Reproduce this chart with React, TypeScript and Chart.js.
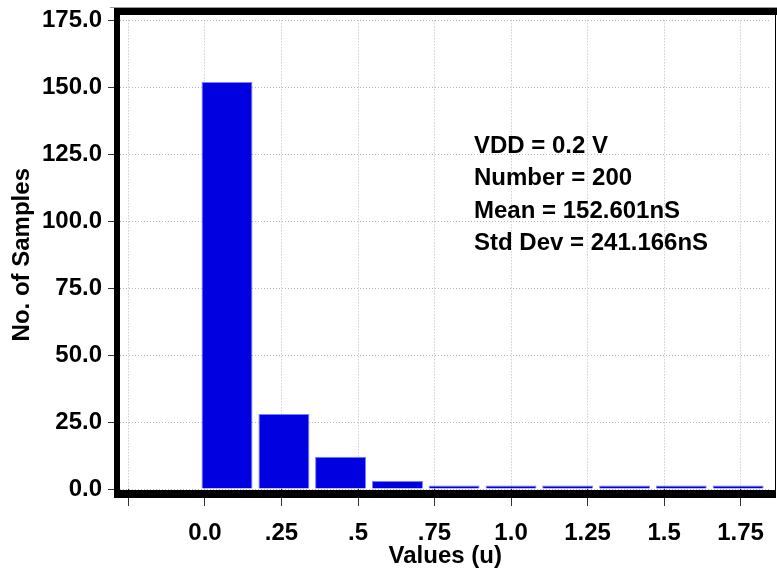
import React, { useEffect, useRef } from 'react';
import { Chart, registerables } from 'chart.js';

Chart.register(...registerables);

// ---- data ----
const binCenters = [0.072, 0.258, 0.443, 0.629, 0.814, 1.0, 1.185, 1.371, 1.556, 1.742];
const sampleCounts = [152, 28, 12, 3, 0, 1, 1, 1, 1, 1];
const xTickValues = [-0.25, 0, 0.25, 0.5, 0.75, 1.0, 1.25, 1.5, 1.75];
const xTickLabels = ['', '0.0', '.25', '.5', '.75', '1.0', '1.25', '1.5', '1.75'];
const yTickValues = [0, 25, 50, 75, 100, 125, 150, 175];
const yTickLabels = ['0.0', '25.0', '50.0', '75.0', '100.0', '125.0', '150.0', '175.0'];
const statsLines = ['VDD = 0.2 V', 'Number = 200', 'Mean = 152.601nS', 'Std Dev = 241.166nS'];
const xTitle = 'Values (u)';
const yTitle = 'No. of Samples';

const FONT = '"Liberation Sans", Arial, Helvetica, sans-serif';

const framePlugin = {
  id: 'frame',
  afterDatasetsDraw(chart: any) {
    const ctx = chart.ctx;
    ctx.save();
    ctx.fillStyle = '#9a9a9a';
    ctx.fillRect(110, 7, 667, 1);
    ctx.fillStyle = '#000';
    ctx.fillRect(114, 8, 663, 7);
    ctx.fillRect(114, 8, 6, 490);
    ctx.fillRect(114, 490, 662, 8);
    ctx.fillRect(775, 8, 1, 490);
    ctx.restore();
  },
};

const statsPlugin = {
  id: 'stats',
  afterDraw(chart: any) {
    const ctx = chart.ctx;
    ctx.save();
    ctx.fillStyle = '#000';
    ctx.font = `bold 24px ${FONT}`;
    ctx.textAlign = 'left';
    ctx.textBaseline = 'middle';
    statsLines.forEach((line, i) => {
      ctx.fillText(line, 474, 146 + i * 32.5);
    });
    ctx.restore();
  },
};

export default function App() {
  const ref = useRef<HTMLCanvasElement>(null);
  useEffect(() => {
    if (!ref.current) return;
    const chart = new Chart(ref.current, {
      type: 'bar',
      data: {
        datasets: [
          {
            data: binCenters.map((x, i) => ({ x, y: sampleCounts[i] })),
            backgroundColor: 'rgb(0,0,224)',
            borderColor: 'rgb(125,125,255)',
            borderWidth: 1,
            borderSkipped: 'start',
            categoryPercentage: 1,
            barPercentage: 0.9,
            minBarLength: 3.5,
          } as any,
        ],
      },
      options: {
        animation: false,
        responsive: false,
        layout: { padding: { top: 16, right: 1, left: 0, bottom: 0 } },
        plugins: { legend: { display: false }, tooltip: { enabled: false } },
        scales: {
          x: {
            type: 'linear',
            min: -0.2776,
            max: 1.8474,
            offset: false,
            afterFit: (s: any) => { s.height = 86; },
            afterBuildTicks: (s: any) => { s.ticks = xTickValues.map((v) => ({ value: v })); },
            ticks: {
              autoSkip: false,
              maxRotation: 0,
              padding: 13,
              color: '#000',
              font: { family: FONT, size: 24, weight: 'bold' },
              callback: (v: any) => {
                const i = xTickValues.findIndex((t) => Math.abs(t - Number(v)) < 1e-6);
                return i >= 0 ? xTickLabels[i] : '';
              },
            },
            grid: {
              offset: false,
              color: '#b8b8b8',
              tickColor: '#333',
              tickLength: 17,
              lineWidth: 1,
            },
            border: { display: false, dash: [1, 2] },
            title: {
              display: true,
              text: xTitle,
              color: '#000',
              font: { family: FONT, size: 24, weight: 'bold' },
              padding: { top: 0, bottom: 4 },
            },
          },
          y: {
            type: 'linear',
            min: 0,
            max: 175,
            afterFit: (s: any) => { s.width = 120; },
            afterBuildTicks: (s: any) => { s.ticks = yTickValues.map((v) => ({ value: v })); },
            ticks: {
              padding: 6,
              color: '#000',
              font: { family: FONT, size: 24, weight: 'bold' },
              callback: (v: any) => {
                const i = yTickValues.findIndex((t) => Math.abs(t - Number(v)) < 1e-6);
                return i >= 0 ? yTickLabels[i] : '';
              },
            },
            grid: {
              color: '#b8b8b8',
              tickColor: '#333',
              tickLength: 12,
              lineWidth: 1,
            },
            border: { display: false, dash: [1, 2] },
            title: {
              display: true,
              text: yTitle,
              color: '#000',
              font: { family: FONT, size: 24, weight: 'bold' },
              padding: { top: 8, bottom: 0 },
            },
          },
        },
      } as any,
      plugins: [framePlugin, statsPlugin],
    });
    return () => chart.destroy();
  }, []);
  return (
    <div style={{ position: 'fixed', left: 0, top: 0, width: 777, height: 575, background: '#fff' }}>
      <canvas ref={ref} width={777} height={575} style={{ display: 'block', width: 777, height: 575 }} />
    </div>
  );
}
